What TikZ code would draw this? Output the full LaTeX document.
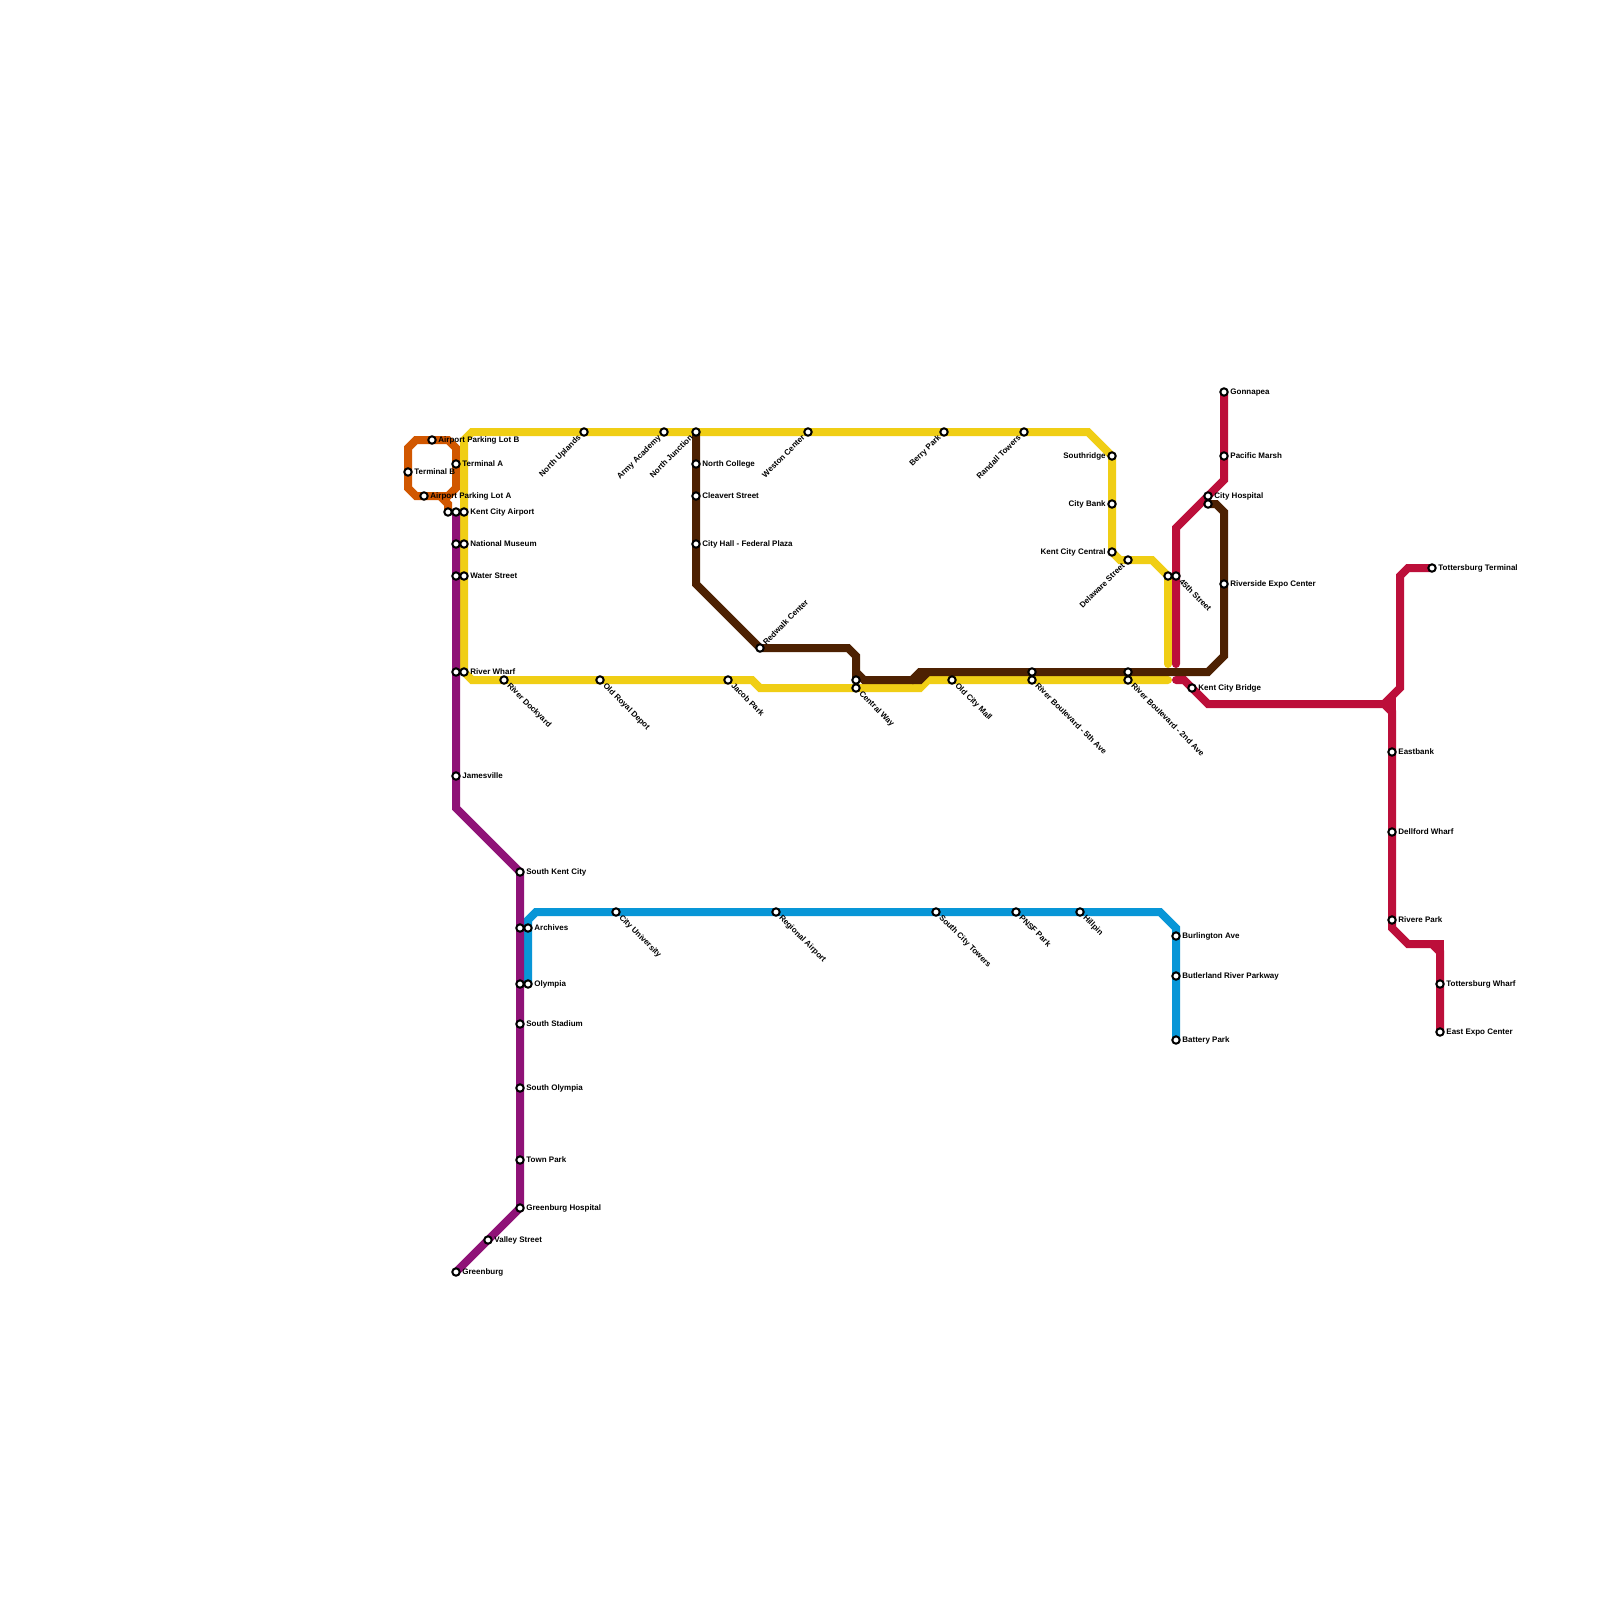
\documentclass[tikz,border=0pt]{standalone}
\usepackage{fontspec}
\setmainfont{Liberation Sans}
\pgfdeclarelayer{lines}
\pgfsetlayers{lines,main}
\definecolor{cOrange}{HTML}{D15700}
\definecolor{cYellow}{HTML}{F0CE15}
\definecolor{cBlue}{HTML}{0896D7}
\definecolor{cPurple}{HTML}{8F1277}
\definecolor{cRed}{HTML}{BC0F3A}
\definecolor{cBrown}{HTML}{4D2102}
\tikzset{
  metro/.style={line width=4pt,line cap=round,line join=miter,miter limit=10},
  stn/.style={circle,draw=black,fill=white,line width=1pt,inner sep=0pt,minimum size=3.7pt},
  lab/.style={font=\fontsize{4}{4.4}\selectfont\bfseries,text=black,inner sep=0pt},
  lr/.style={lab,anchor=base west,xshift=3.0pt,yshift=-1.25pt},
  ll/.style={lab,anchor=base east,xshift=-3.0pt,yshift=-1.25pt},
  lul/.style={lab,rotate=45,anchor=base east,xshift=-3.0pt,yshift=-1.25pt},
  ldr/.style={lab,rotate=-45,anchor=base west,xshift=3.0pt,yshift=-1.25pt},
  lur/.style={lab,rotate=45,anchor=base west,xshift=3.0pt,yshift=-1.25pt},
}
\newcommand{\st}[3]{\node[stn] (#1) at (#2,#3) {};}
\begin{document}
\begin{tikzpicture}[x=0.5pt,y=-0.5pt]
\useasboundingbox (0,0) rectangle (1600,1600);
% stations
\st{lotB}{432}{440}\st{termB}{408}{472}\st{lotA}{424}{496}\st{termA}{456}{464}
\st{kcaO}{448}{512}\st{kcaP}{456}{512}\st{kcaY}{464}{512}
\st{nmP}{456}{544}\st{nmY}{464}{544}\st{wsP}{456}{576}\st{wsY}{464}{576}
\st{rwP}{456}{672}\st{rwY}{464}{672}\st{james}{456}{776}
\st{skc}{520}{872}\st{arP}{520}{928}\st{arB}{528}{928}\st{olP}{520}{984}\st{olB}{528}{984}
\st{sstad}{520}{1024}\st{solym}{520}{1088}\st{town}{520}{1160}\st{ghosp}{520}{1208}
\st{valley}{488}{1240}\st{green}{456}{1272}
\st{nup}{584}{432}\st{army}{664}{432}\st{njunc}{696}{432}\st{ncol}{696}{464}\st{clea}{696}{496}\st{chall}{696}{544}
\st{red}{760}{648}\st{weston}{808}{432}\st{berry}{944}{432}\st{randall}{1024}{432}
\st{south}{1112}{456}\st{cbank}{1112}{504}\st{kcc}{1112}{552}\st{dela}{1128}{560}
\st{fthY}{1168}{576}\st{fthR}{1176}{576}
\st{chA}{1208}{496}\st{chB}{1208}{504}\st{gonna}{1224}{392}\st{pacific}{1224}{456}\st{rexpo}{1224}{584}
\st{kcb}{1192}{688}
\st{dock}{504}{680}\st{royal}{600}{680}\st{jacob}{728}{680}\st{cwA}{856}{680}\st{cwB}{856}{688}\st{mall}{952}{680}
\st{fifA}{1032}{672}\st{fifB}{1032}{680}\st{secA}{1128}{672}\st{secB}{1128}{680}
\st{cityu}{616}{912}\st{regair}{776}{912}\st{sct}{936}{912}\st{pnsf}{1016}{912}\st{hill}{1080}{912}
\st{burl}{1176}{936}\st{butl}{1176}{976}\st{batt}{1176}{1040}
\st{totT}{1432}{568}\st{east}{1392}{752}\st{dell}{1392}{832}\st{rivere}{1392}{920}\st{totW}{1440}{984}\st{expo}{1440}{1032}
% labels
\node[lr] (tlotB) at (lotB.center) {Airport Parking Lot B};
\node[lr] (ttermB) at (termB.center) {Terminal B};
\node[lr] (tlotA) at (lotA.center) {Airport Parking Lot A};
\node[lr] (ttermA) at (termA.center) {Terminal A};
\node[lr] (tkca) at (kcaY.center) {Kent City Airport};
\node[lr] (tnm) at (nmY.center) {National Museum};
\node[lr] (tws) at (wsY.center) {Water Street};
\node[lr] (trw) at (rwY.center) {River Wharf};
\node[lr] (tjames) at (james.center) {Jamesville};
\node[lr] (tskc) at (skc.center) {South Kent City};
\node[lr] (tar) at (arB.center) {Archives};
\node[lr] (tol) at (olB.center) {Olympia};
\node[lr] (tsstad) at (sstad.center) {South Stadium};
\node[lr] (tsolym) at (solym.center) {South Olympia};
\node[lr] (ttown) at (town.center) {Town Park};
\node[lr] (tghosp) at (ghosp.center) {Greenburg Hospital};
\node[lr] (tvalley) at (valley.center) {Valley Street};
\node[lr] (tgreen) at (green.center) {Greenburg};
\node[lul] (tnup) at (nup.center) {North Uplands};
\node[lul] (tarmy) at (army.center) {Army Academy};
\node[lul] (tnjunc) at (njunc.center) {North Junction};
\node[lr] (tncol) at (ncol.center) {North College};
\node[lr] (tclea) at (clea.center) {Cleavert Street};
\node[lr] (tchall) at (chall.center) {City Hall - Federal Plaza};
\node[lur] (tred) at (red.center) {Redwalk Center};
\node[lul] (tweston) at (weston.center) {Weston Center};
\node[lul] (tberry) at (berry.center) {Berry Park};
\node[lul] (trandall) at (randall.center) {Randall Towers};
\node[ll] (tsouth) at (south.center) {Southridge};
\node[ll] (tcbank) at (cbank.center) {City Bank};
\node[ll] (tkcc) at (kcc.center) {Kent City Central};
\node[lul] (tdela) at (dela.center) {Delaware Street};
\node[ldr] (tfth) at (fthR.center) {45th Street};
\node[lr] (tch) at (chA.center) {City Hospital};
\node[lr] (tgonna) at (gonna.center) {Gonnapea};
\node[lr] (tpacific) at (pacific.center) {Pacific Marsh};
\node[lr] (trexpo) at (rexpo.center) {Riverside Expo Center};
\node[lr] (tkcb) at (kcb.center) {Kent City Bridge};
\node[ldr] (tdock) at (dock.center) {River Dockyard};
\node[ldr] (troyal) at (royal.center) {Old Royal Depot};
\node[ldr] (tjacob) at (jacob.center) {Jacob Park};
\node[ldr] (tcw) at (cwB.center) {Central Way};
\node[ldr] (tmall) at (mall.center) {Old City Mall};
\node[ldr] (tfif) at (fifB.center) {River Boulevard - 5th Ave};
\node[ldr] (tsec) at (secB.center) {River Boulevard - 2nd Ave};
\node[ldr] (tcityu) at (cityu.center) {City University};
\node[ldr] (tregair) at (regair.center) {Regional Airport};
\node[ldr] (tsct) at (sct.center) {South City Towers};
\node[ldr] (tpnsf) at (pnsf.center) {PNSF Park};
\node[ldr] (thill) at (hill.center) {Hillpin};
\node[lr] (tburl) at (burl.center) {Burlington Ave};
\node[lr] (tbutl) at (butl.center) {Butlerland River Parkway};
\node[lr] (tbatt) at (batt.center) {Battery Park};
\node[lr] (ttotT) at (totT.center) {Tottersburg Terminal};
\node[lr] (teast) at (east.center) {Eastbank};
\node[lr] (tdell) at (dell.center) {Dellford Wharf};
\node[lr] (trivere) at (rivere.center) {Rivere Park};
\node[lr] (ttotW) at (totW.center) {Tottersburg Wharf};
\node[lr] (texpo) at (expo.center) {East Expo Center};
% lines
\begin{pgfonlayer}{lines}
\fill[white] (0,0) rectangle (1600,1600);
\draw[metro,cOrange] (408,448) -- (416,440) -- (448,440) -- (456,448) -- (456,488) -- (448,496) -- (416,496) -- (408,488) -- cycle;
\draw[metro,cOrange] (440,496) -- (448,504) -- (kcaO.center);
\draw[metro,cYellow] (rwY.center) -- (wsY.center) -- (nmY.center) -- (kcaY.center) -- (464,440) -- (472,432) -- (nup.center) -- (army.center) -- (njunc.center) -- (weston.center) -- (berry.center) -- (randall.center) -- (1088,432) -- (south.center) -- (cbank.center) -- (kcc.center) -- (1120,560) -- (dela.center) -- (1152,560) -- (fthY.center) -- (1168,664);
\draw[metro,cYellow] (rwY.center) -- (472,680) -- (dock.center) -- (royal.center) -- (jacob.center) -- (752,680) -- (760,688) -- (cwB.center) -- (920,688) -- (928,680) -- (mall.center) -- (fifB.center) -- (secB.center) -- (1168,680);
\draw[metro,cBlue] (olB.center) -- (arB.center) -- (528,920) -- (536,912) -- (cityu.center) -- (regair.center) -- (sct.center) -- (pnsf.center) -- (hill.center) -- (1160,912) -- (1176,928) -- (burl.center) -- (butl.center) -- (batt.center);
\draw[metro,cPurple] (kcaP.center) -- (nmP.center) -- (wsP.center) -- (rwP.center) -- (james.center) -- (456,808) -- (skc.center) -- (arP.center) -- (olP.center) -- (sstad.center) -- (solym.center) -- (town.center) -- (ghosp.center) -- (valley.center) -- (green.center);
\draw[metro,cRed] (gonna.center) -- (pacific.center) -- (1224,480) -- (chA.center) -- (1176,528) -- (fthR.center) -- (1176,664);
\draw[metro,cRed] (1176,680) -- (1184,680) -- (kcb.center) -- (1208,704) -- (1384,704) -- (1392,712) -- (east.center) -- (dell.center) -- (rivere.center) -- (1392,928) -- (1408,944) -- (1432,944) -- (1440,952) -- (totW.center) -- (expo.center);
\draw[metro,cRed,line cap=butt] (1392,696) -- (1392,716);
\draw[metro,cRed,line cap=butt] (1432,944) -- (1440,944) -- (1440,956);
\draw[metro,cRed] (1384,704) -- (1400,688) -- (1400,576) -- (1408,568) -- (totT.center);
\draw[metro,cBrown] (njunc.center) -- (ncol.center) -- (clea.center) -- (chall.center) -- (696,584) -- (red.center) -- (848,648) -- (856,656) -- (856,672) -- (864,680) -- (912,680) -- (920,672) -- (fifA.center) -- (secA.center) -- (1208,672) -- (1224,656) -- (rexpo.center) -- (1224,512) -- (1216,504) -- (chB.center);
\draw[metro,cBrown] (856,672) -- (cwA.center);
\draw[metro,cBrown,line cap=butt] (912,680) -- (920,680) -- (928,672) -- (920,672);
\end{pgfonlayer}
\end{tikzpicture}
\end{document}
